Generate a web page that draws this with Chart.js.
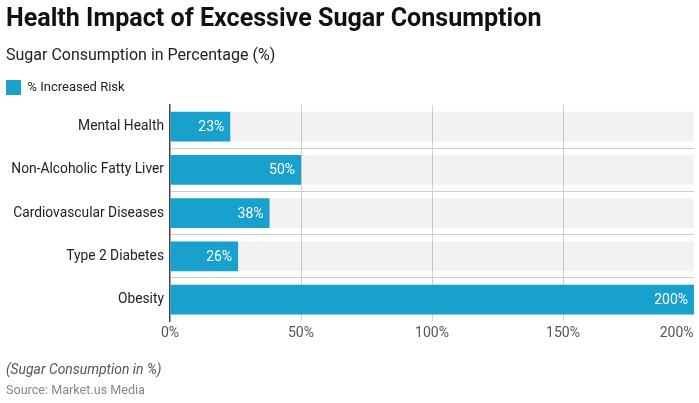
<!DOCTYPE html>
<html>
<head>
<meta charset="utf-8">
<script src="https://cdn.jsdelivr.net/npm/chart.js@4.4.1/dist/chart.umd.min.js"></script>
<style>
  html, body { margin: 0; padding: 0; background: #fff; }
  body { width: 699px; height: 403px; position: relative; overflow: hidden; font-family: Roboto, "Noto Sans", sans-serif; }
  #title { position: absolute; left: 6px; top: 3px; font-size: 25.1px; font-weight: 700; color: #111; white-space: nowrap; }
  #subtitle { position: absolute; left: 6px; top: 45px; font-size: 16px; color: #222; white-space: nowrap; }
  #note { position: absolute; left: 6px; top: 361px; font-size: 13.9px; font-style: italic; color: #555; white-space: nowrap; }
  #source { position: absolute; left: 6px; top: 382px; font-size: 12.6px; color: #888; white-space: nowrap; }
  #wrap { position: absolute; left: 0; top: 0; width: 699px; height: 403px; }
</style>
</head>
<body>
<div id="wrap"><canvas id="chart"></canvas></div>
<div id="title">Health Impact of Excessive Sugar Consumption</div>
<div id="subtitle">Sugar Consumption in Percentage (%)</div>
<div id="note">(Sugar Consumption in %)</div>
<div id="source">Source: Market.us Media</div>
<script>
// data
const categories = ['Mental Health', 'Non-Alcoholic Fatty Liver', 'Cardiovascular Diseases', 'Type 2 Diabetes', 'Obesity'];
const riskValues = [23, 50, 38, 26, 200];
const bandValues = [200, 200, 200, 200, 200];
const xTicks = [0, 50, 100, 150, 200];

const BLUE = '#18a1cd';

/* ===== value labels inside bars ===== */
const barLabels = {
  id: 'barLabels',
  afterDatasetsDraw(chart) {
    const ctx = chart.ctx;
    const meta = chart.getDatasetMeta(1);
    ctx.save();
    ctx.font = '14px Roboto, sans-serif';
    ctx.fillStyle = '#fff';
    ctx.textAlign = 'right';
    ctx.textBaseline = 'middle';
    meta.data.forEach((bar, i) => {
      ctx.fillText(riskValues[i] + '%', bar.x - 6, bar.y + 1);
    });
    ctx.restore();
  }
};

new Chart(document.getElementById('chart'), {
  type: 'bar',
  data: {
    labels: categories,
    datasets: [
      {
        label: 'band',
        data: bandValues,
        backgroundColor: 'rgba(0,0,0,0.05)',
        grouped: false,
        order: 2,
        categoryPercentage: 1,
        barPercentage: 0.69
      },
      {
        label: '% Increased Risk',
        data: riskValues,
        backgroundColor: BLUE,
        grouped: false,
        order: 1,
        categoryPercentage: 1,
        barPercentage: 0.69
      }
    ]
  },
  options: {
    indexAxis: 'y',
    responsive: true,
    maintainAspectRatio: false,
    animation: false,
    layout: { padding: { top: 70, left: -4, right: 5, bottom: 57 } },
    plugins: {
      tooltip: { enabled: false },
      legend: {
        position: 'top',
        align: 'start',
        labels: {
          filter: item => item.text !== 'band',
          boxWidth: 15,
          boxHeight: 15,
          padding: 10,
          color: '#222',
          font: { family: 'Roboto', size: 13 }
        }
      }
    },
    scales: {
      x: {
        min: 0,
        max: 200,
        afterBuildTicks(s) { s.ticks = xTicks.map(v => ({ value: v })); },
        afterFit(s) { s.paddingRight = 0; s.paddingLeft = 0; },
        border: { display: false },
        grid: {
          drawTicks: false,
          color: c => (c.tick && c.tick.value > 0 && c.tick.value < 200) ? '#d0d0d0' : 'transparent',
          lineWidth: 1
        },
        ticks: {
          padding: 4,
          color: '#555',
          font: { family: 'Roboto', size: 14 },
          maxRotation: 0,
          callback: v => v === 200 ? '200%\u00a0\u00a0\u00a0\u00a0\u00a0\u00a0\u00a0\u00a0\u00a0\u00a0' : v + '%'
        }
      },
      y: {
        afterFit(s) { s.width = 174; },
        border: { display: true, color: '#444', width: 1.5 },
        grid: {
          drawTicks: false,
          color: c => c.index > 0 ? '#cccccc' : 'transparent',
          borderDash: [1, 2]
        },
        ticks: {
          padding: 6,
          color: '#222',
          font: { family: 'Roboto', size: 13.8 }
        }
      }
    }
  },
  plugins: [barLabels]
});
</script>
</body>
</html>
